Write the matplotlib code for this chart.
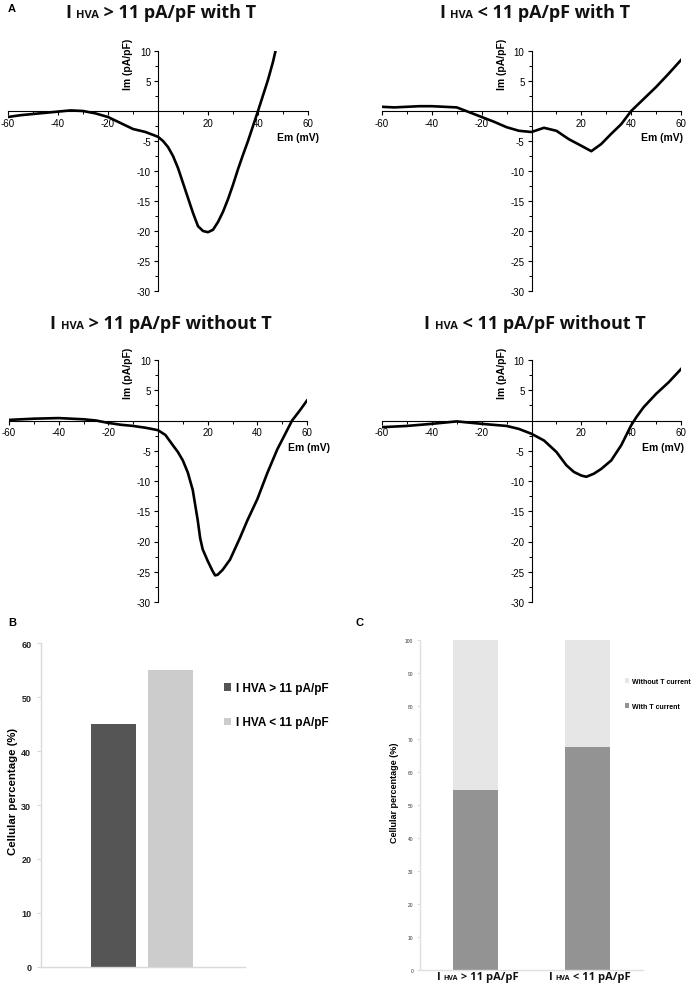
import matplotlib
matplotlib.use("Agg")
import matplotlib.pyplot as plt
from matplotlib import font_manager
from matplotlib.offsetbox import TextArea, HPacker, AnnotationBbox
from matplotlib.patches import Patch

W, H = 695, 987

# I-V traces (Em in mV, Im in pA/pF)
v_hi_T = [-60, -55, -50, -45, -40, -35, -30, -25, -20, -15, -10, -5, 0, 2, 4, 6, 8, 10,
          12, 14, 16, 18, 20, 22, 24, 26, 28, 30, 32, 34, 36, 38, 40, 42, 44, 46, 47]
i_hi_T = [-1.0, -0.7, -0.5, -0.3, -0.1, 0.1, 0.0, -0.4, -1.0, -2.0, -3.0, -3.5, -4.3, -5.0,
          -6.0, -7.5, -9.5, -12.0, -14.5, -17.0, -19.2, -20.0, -20.2, -19.8, -18.5, -16.8,
          -14.7, -12.3, -9.7, -7.3, -5.0, -2.5, 0.0, 2.6, 5.2, 8.2, 10.0]

v_lo_T = [-60, -55, -50, -45, -40, -35, -30, -25, -20, -15, -10, -5, 0, 5, 10, 15, 20,
          24, 28, 32, 36, 40, 45, 50, 55, 60]
i_lo_T = [0.7, 0.6, 0.7, 0.8, 0.8, 0.7, 0.6, -0.2, -1.0, -1.8, -2.7, -3.3, -3.5, -2.8,
          -3.3, -4.7, -5.8, -6.7, -5.5, -3.8, -2.2, 0.0, 2.0, 4.0, 6.2, 8.5]

v_hi_noT = [-60, -50, -40, -30, -25, -20, -15, -10, -5, 0, 3, 6, 8, 10, 12, 14, 15, 16,
            17, 18, 20, 22, 23, 24, 26, 29, 33, 36, 40, 44, 48, 52, 54, 57, 60]
i_hi_noT = [0.1, 0.3, 0.4, 0.2, 0.0, -0.4, -0.7, -0.9, -1.2, -1.6, -2.4, -4.1, -5.2, -6.6,
            -8.6, -11.5, -14.0, -16.5, -19.5, -21.3, -23.2, -24.9, -25.6, -25.5, -24.7,
            -23.0, -19.4, -16.5, -13.0, -8.7, -4.8, -1.6, 0.0, 1.6, 3.3]

v_lo_noT = [-60, -50, -40, -30, -20, -10, -5, 0, 5, 10, 14, 17, 20, 22, 25, 28, 32, 36,
            40, 42, 45, 50, 55, 60]
i_lo_noT = [-1.1, -0.9, -0.55, -0.15, -0.55, -0.9, -1.4, -2.2, -3.3, -5.2, -7.4, -8.5,
            -9.1, -9.3, -8.8, -8.0, -6.6, -4.1, -0.8, 0.5, 2.2, 4.4, 6.3, 8.5]

# panel B
b_labels = ["I HVA > 11 pA/pF", "I HVA < 11 pA/pF"]
b_values = [45, 55]
b_colors = ["#555555", "#cccccc"]

# panel C
c_groups = [">", "<"]
c_with_T = [54.5, 67.5]
c_without_T = [45.5, 32.5]

names = {f.name for f in font_manager.fontManager.ttflist}
NARROW = "Liberation Sans Narrow" if "Liberation Sans Narrow" in names else "Liberation Sans"
SANS = "Liberation Sans"
TITLE = "Open Sans"

plt.rcParams["font.family"] = SANS
plt.rcParams["axes.unicode_minus"] = False

fig = plt.figure(figsize=(W / 100, H / 100), dpi=100)


def px_axes(l, r, t, b):
    return fig.add_axes([l / W, 1 - b / H, (r - l) / W, (b - t) / H])


def hva_text(x, y, rel, rest, big, small):
    tp = dict(size=big, weight="bold", family=TITLE, color="#111111")
    sp = dict(size=small, weight="bold", family=TITLE, color="#111111")
    parts = [TextArea("I ", textprops=tp), TextArea("HVA", textprops=sp),
             TextArea(" " + rel + " " + rest, textprops=tp)]
    box = HPacker(children=parts, align="baseline", pad=0, sep=0)
    ab = AnnotationBbox(box, (x, H - y), xycoords="figure pixels", frameon=False,
                        box_alignment=(0.5, 0.5), pad=0)
    fig.add_artist(ab)


def iv_panel(ax, v, i, em_xy):
    ax.plot(v, i, color="black", lw=1.9)
    ax.set_xlim(-60, 60)
    ax.set_ylim(-30, 10)
    for s in ["top", "right"]:
        ax.spines[s].set_visible(False)
    ax.spines["left"].set_position(("data", 0))
    ax.spines["bottom"].set_position(("data", 0))
    ax.set_xticks([-60, -40, -20, 20, 40, 60])
    ax.set_xticks([-50, -30, -10, 10, 30, 50], minor=True)
    ax.set_yticks([10, 5, -5, -10, -15, -20, -25, -30])
    ax.set_yticks([7.5, 2.5, -2.5, -7.5, -12.5, -17.5, -22.5, -27.5], minor=True)
    ax.tick_params(which="major", length=3, width=0.8, labelsize=7, pad=2)
    ax.tick_params(which="minor", length=2, width=0.7)
    ax.patch.set_alpha(0)
    ax.text(-12, 8.0, "Im (pA/pF)", rotation=90, ha="center", va="center",
            fontsize=7.5, fontweight="bold")
    ax.text(em_xy[0], em_xy[1], "Em (mV)", ha="center", va="center",
            fontsize=7.5, fontweight="bold", clip_on=False)


ax1 = px_axes(8, 308, 52, 292)
iv_panel(ax1, v_hi_T, i_hi_T, (56, -4.4))
ax2 = px_axes(382, 681, 52, 292)
iv_panel(ax2, v_lo_T, i_lo_T, (52.4, -4.4))
ax3 = px_axes(9, 307, 361, 603)
iv_panel(ax3, v_hi_noT, i_hi_noT, (61, -4.3))
ax4 = px_axes(382, 681, 361, 603)
iv_panel(ax4, v_lo_noT, i_lo_noT, (52.8, -4.3))

hva_text(161, 13, ">", "11 pA/pF with T", 13, 8)
hva_text(535, 13, "<", "11 pA/pF with T", 13, 8)
hva_text(161, 324, ">", "11 pA/pF without T", 13, 8)
hva_text(535, 324, "<", "11 pA/pF without T", 13, 8)

fig.text(8 / W, 1 - 9 / H, "A", fontsize=8, fontweight="bold", va="center")
fig.text(8 / W, 1 - 623 / H, "B", fontsize=8, fontweight="bold", va="center")
fig.text(355 / W, 1 - 623 / H, "C", fontsize=8, fontweight="bold", va="center")

# panel B
axb = px_axes(41, 245, 644, 968)
axb.bar([0, 1], b_values, width=0.78, color=b_colors)
axb.set_xlim(-1.26, 2.29)
axb.set_ylim(0, 60)
axb.set_xticks([])
axb.set_yticks(range(0, 61, 10))
for s in ["top", "right"]:
    axb.spines[s].set_visible(False)
for s in ["left", "bottom"]:
    axb.spines[s].set_color("#d9d9d9")
    axb.spines[s].set_linewidth(1.0)
axb.tick_params(axis="y", length=3, color="#d9d9d9", pad=4)
for lab in axb.get_yticklabels():
    lab.set_family(NARROW)
    lab.set_fontweight("bold")
    lab.set_fontsize(6.5)
    lab.set_color("#222222")
axb.set_ylabel("Cellular percentage (%)", family=NARROW, fontweight="bold",
               fontsize=8.2)
axb.yaxis.set_label_coords(-0.115, 0.545)
hb = [Patch(facecolor=c, edgecolor="none") for c in b_colors]
fig.legend(hb, b_labels, loc="upper left", bbox_to_anchor=(224 / W, 1 - 683 / H),
           frameon=False, handlelength=0.6, handleheight=0.6, handletextpad=0.4,
           labelspacing=1.9, borderpad=0, borderaxespad=0,
           prop=dict(family=NARROW, weight="bold", size=8.5))

# panel C
axc = px_axes(420, 643, 641, 971)
xc = [0, 1]
axc.bar(xc, c_with_T, width=0.4, color="#939393", label="With T current")
axc.bar(xc, c_without_T, width=0.4, bottom=c_with_T, color="#e6e6e6",
        label="Without T current")
axc.set_xlim(-0.5, 1.5)
axc.set_ylim(0, 100)
axc.set_xticks([])
axc.set_yticks(range(0, 101, 10))
for s in ["top", "right"]:
    axc.spines[s].set_visible(False)
for s in ["left", "bottom"]:
    axc.spines[s].set_color("#e0e0e0")
    axc.spines[s].set_linewidth(1.0)
axc.tick_params(axis="y", length=2, color="#e0e0e0", pad=3, labelsize=3.5,
                labelcolor="#333333")
axc.set_ylabel("Cellular percentage (%)", family=NARROW, fontweight="bold",
               fontsize=6.5)
axc.yaxis.set_label_coords(-0.094, 0.54)
h, l = axc.get_legend_handles_labels()
fig.legend(h[::-1], l[::-1], loc="upper left", bbox_to_anchor=(625 / W, 1 - 679 / H),
           frameon=False, handlelength=0.6, handleheight=0.6, handletextpad=0.4,
           labelspacing=2.6, borderpad=0, borderaxespad=0,
           prop=dict(family=NARROW, weight="bold", size=5))
for k, rel in enumerate(c_groups):
    xpix = 478 + 111.5 * k
    hva_text(xpix, 978, rel, "11 pA/pF", 8, 5)

fig.savefig("out.png", dpi=100)
